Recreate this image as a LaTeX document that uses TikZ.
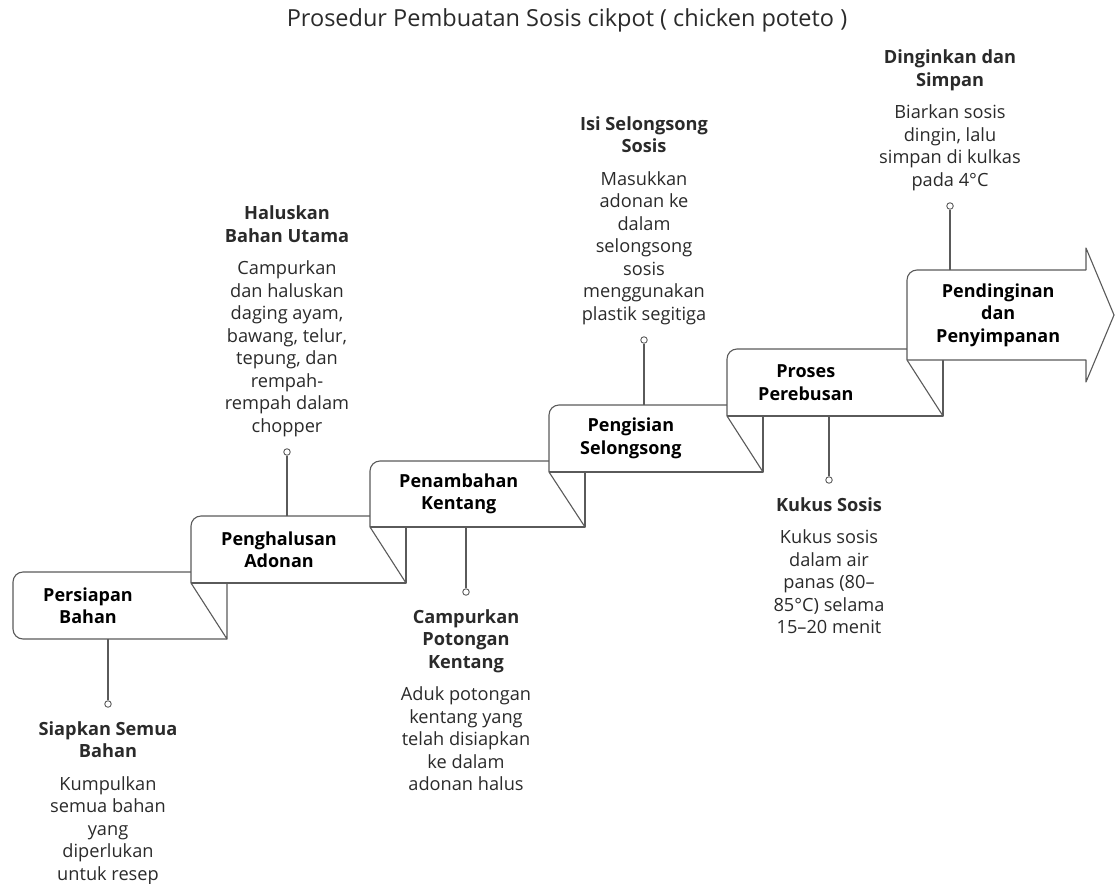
\documentclass[tikz,border=0pt]{standalone}
\usepackage{fontspec}
\setmainfont{Open Sans}
\usetikzlibrary{positioning}

\definecolor{linegray}{HTML}{5A5A5A}
\definecolor{textgray}{HTML}{2A2A2A}

\begin{document}
\begin{tikzpicture}[
            x=1pt, y=-1pt,
            every node/.style={ inner sep=0pt, align=center, text=textgray, font=\fontsize{18.2}{22.5}\selectfont },
            stage/.style={ draw=linegray, line width=1.1pt, line join=round },
            stem/.style={ draw=linegray, line width=1.1pt },
            knob/.style={ circle, draw=linegray, line width=0.9pt, fill=white, minimum size=6.5pt },
            stagename/.style={ anchor=west, text=black, font=\fontsize{18}{22.5}\selectfont\bfseries }
        ]
        \useasboundingbox (0,0) rectangle (1115,883);

        \node (title) at (567,20) {\fontsize{23.5}{27}\selectfont Prosedur Pembuatan Sosis cikpot ( chicken poteto )};

        % Persiapan Bahan
        \fill[white] (13,572) rectangle (227,639);
        \draw[stage, rounded corners=10pt] (227,639) -- (13,639) -- (13,572) -- (227,572);
        \draw[stage] (227,572) -- (227,639) -- (191,583);
        \node[stagename] (n1) at (43,605.5) {Persiapan\\Bahan};

        % Penghalusan Adonan
        \fill[white] (191,516) rectangle (406,583);
        \draw[stage, rounded corners=10pt] (191,583) -- (191,516) -- (406,516);
        \draw[stage] (406,516) -- (406,583) -- (191,583);
        \draw[stage] (406,583) -- (370,527);
        \node[stagename] (n2) at (221,549.5) {Penghalusan\\Adonan};

        % Penambahan Kentang
        \fill[white] (370,461) rectangle (585,527);
        \draw[stage, rounded corners=10pt] (370,527) -- (370,461) -- (585,461);
        \draw[stage] (585,461) -- (585,527) -- (370,527);
        \draw[stage] (585,527) -- (549,472);
        \node[stagename] (n3) at (399,494) {Penambahan\\Kentang};

        % Pengisian Selongsong
        \fill[white] (549,405) rectangle (763,472);
        \draw[stage, rounded corners=10pt] (549,472) -- (549,405) -- (763,405);
        \draw[stage] (763,405) -- (763,472) -- (549,472);
        \draw[stage] (763,472) -- (727,416);
        \node[stagename] (n4) at (580,438.5) {Pengisian\\Selongsong};

        % Proses Perebusan
        \fill[white] (727,349) rectangle (943,416);
        \draw[stage, rounded corners=10pt] (727,416) -- (727,349) -- (943,349);
        \draw[stage] (943,349) -- (943,416) -- (727,416);
        \draw[stage] (943,416) -- (907,360);
        \node[stagename] (n5) at (758,382.5) {Proses\\Perebusan};

        % Pendinginan dan Penyimpanan
        \fill[white] (907,270) -- (1086,270) -- (1086,248) -- (1114,315) -- (1086,382) -- (1086,360) -- (907,360) -- cycle;
        \draw[stage, rounded corners=10pt] (907,360) -- (907,270) -- (1086,270);
        \draw[stage] (1086,270) -- (1086,248) -- (1114,315) -- (1086,382) -- (1086,360) -- (907,360);
        \node[stagename] (n6) at (936,315) {Pendinginan\\dan\\Penyimpanan};

        % stems and notes
        \coordinate (s1) at (108,639);
        \node[knob] (k1) at (108,704) {};
        \draw[stem] (s1) -- (k1);
        \node[anchor=north] (d1) at (108,721) {\textbf{Siapkan Semua}\\\textbf{Bahan}\\[10pt]Kumpulkan\\semua bahan\\yang\\diperlukan\\untuk resep};

        \coordinate (s2) at (287,516);
        \node[knob] (k2) at (287,452) {};
        \draw[stem] (s2) -- (k2);
        \node[anchor=south] (d2) at (287,437) {\textbf{Haluskan}\\\textbf{Bahan Utama}\\[10pt]Campurkan\\dan haluskan\\daging ayam,\\bawang, telur,\\tepung, dan\\rempah-\\rempah dalam\\chopper};

        \coordinate (s3) at (466,527);
        \node[knob] (k3) at (466,592) {};
        \draw[stem] (s3) -- (k3);
        \node[anchor=north] (d3) at (466,609) {\textbf{Campurkan}\\\textbf{Potongan}\\\textbf{Kentang}\\[10pt]Aduk potongan\\kentang yang\\telah disiapkan\\ke dalam\\adonan halus};

        \coordinate (s4) at (644,405);
        \node[knob] (k4) at (644,340) {};
        \draw[stem] (s4) -- (k4);
        \node[anchor=south] (d4) at (644,325) {\textbf{Isi Selongsong}\\\textbf{Sosis}\\[10pt]Masukkan\\adonan ke\\dalam\\selongsong\\sosis\\menggunakan\\plastik segitiga};

        \coordinate (s5) at (829,416);
        \node[knob] (k5) at (829,480) {};
        \draw[stem] (s5) -- (k5);
        \node[anchor=north] (d5) at (829,497) {\textbf{Kukus Sosis}\\[10pt]Kukus sosis\\dalam air\\panas (80--\\85°C) selama\\15--20 menit};

        \coordinate (s6) at (950,270);
        \node[knob] (k6) at (950,206) {};
        \draw[stem] (s6) -- (k6);
        \node[anchor=south] (d6) at (950,191) {\textbf{Dinginkan dan}\\\textbf{Simpan}\\[10pt]Biarkan sosis\\dingin, lalu\\simpan di kulkas\\pada 4°C};
    \end{tikzpicture}
\end{document}
